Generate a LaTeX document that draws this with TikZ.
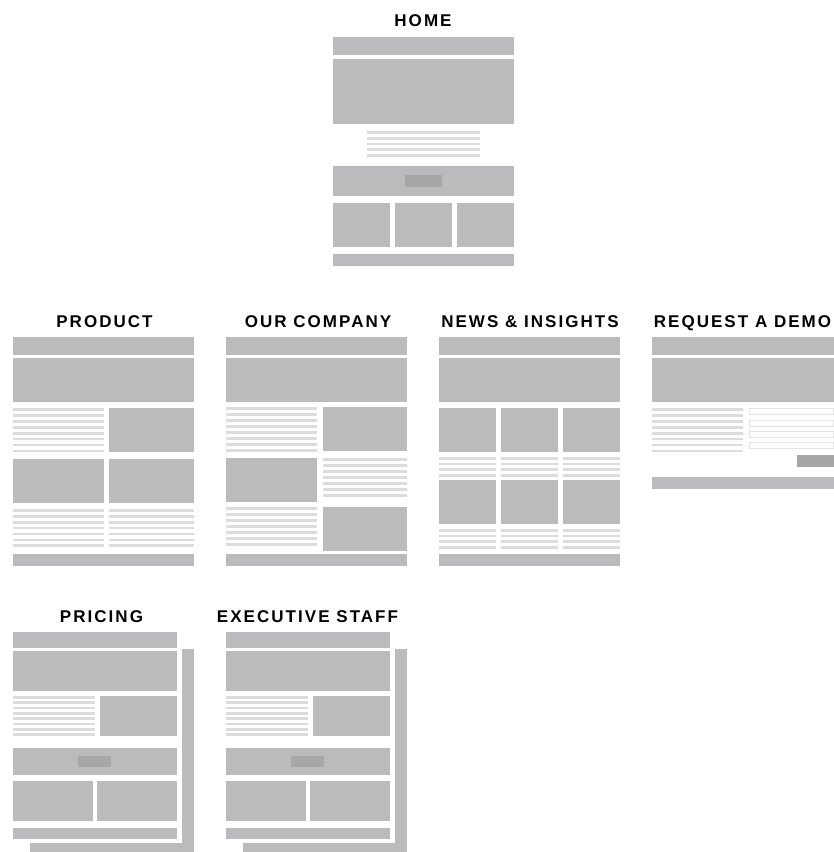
\documentclass[tikz,border=0pt]{standalone}
\usepackage{fontspec}
\usepackage{tikz}
\newfontfamily\headfont{Liberation Sans}[LetterSpace=12]
\definecolor{blockgray}{HTML}{BBBBBE}
\definecolor{linegray}{HTML}{DCDCDE}
\definecolor{btngray}{HTML}{A7A7AA}
\definecolor{fieldgray}{HTML}{E4E4E6}
\tikzset{
  block/.style={fill=blockgray},
  txtline/.style={fill=linegray},
  button/.style={fill=btngray},
  field/.style={draw=fieldgray, fill=white, line width=0.8pt},
  pagetitle/.style={font=\headfont\bfseries\fontsize{17}{17}\selectfont, anchor=base, inner sep=0pt, text=black}
}

\begin{document}
\begin{tikzpicture}[x=1pt,y=-1pt]
\useasboundingbox[fill=white] (0,0) rectangle (834,852);

% home
\node[pagetitle] (home) at (423,26) {HOME};
\fill[block] (333,37) rectangle (514,55);
\fill[block] (333,59) rectangle (514,124);
\foreach \i in {0,...,4} \fill[txtline] (367,131+5.8*\i) rectangle (480,133.7+5.8*\i);
\fill[block] (333,166) rectangle (514,196);
\fill[button] (405,175) rectangle (442,187);
\fill[block] (333,203) rectangle (390,247);
\fill[block] (395,203) rectangle (452,247);
\fill[block] (457,203) rectangle (514,247);
\fill[block] (333,254) rectangle (514,266);

% product
\node[pagetitle] (product) at (104.5,327) {PRODUCT};
\fill[block] (13,337) rectangle (194,355);
\fill[block] (13,358) rectangle (194,402);
\foreach \i in {0,...,7} \fill[txtline] (13,408+5.95*\i) rectangle (104,410.7+5.95*\i);
\fill[block] (109,408) rectangle (194,452);
\fill[block] (13,459) rectangle (104,503);
\fill[block] (109,459) rectangle (194,503);
\foreach \i in {0,...,6} {
  \fill[txtline] (13,509+5.9*\i) rectangle (104,511.7+5.9*\i);
  \fill[txtline] (109,509+5.9*\i) rectangle (194,511.7+5.9*\i);
}
\fill[block] (13,554) rectangle (194,566);

% our company
\node[pagetitle] (company) at (318,327) {OUR COMPANY};
\fill[block] (226,337) rectangle (407,355);
\fill[block] (226,358) rectangle (407,402);
\foreach \i in {0,...,7} \fill[txtline] (226,407+6*\i) rectangle (317,409.7+6*\i);
\fill[block] (323,407) rectangle (407,451);
\fill[block] (226,458) rectangle (317,502);
\foreach \i in {0,...,6} \fill[txtline] (323,458+6*\i) rectangle (407,460.7+6*\i);
\foreach \i in {0,...,6} \fill[txtline] (226,507+6*\i) rectangle (317,509.7+6*\i);
\fill[block] (323,507) rectangle (407,551);
\fill[block] (226,554) rectangle (407,566);

% news and insights
\node[pagetitle] (news) at (530,327) {NEWS \& INSIGHTS};
\fill[block] (439,337) rectangle (620,355);
\fill[block] (439,358) rectangle (620,402);
\foreach \x in {439,501,563} {
  \fill[block] (\x,408) rectangle (\x+57,452);
  \fill[block] (\x,480) rectangle (\x+57,524);
  \foreach \i in {0,...,3} {
    \fill[txtline] (\x,457+5.7*\i) rectangle (\x+57,459.7+5.7*\i);
    \fill[txtline] (\x,529+5.7*\i) rectangle (\x+57,531.7+5.7*\i);
  }
}
\fill[block] (439,554) rectangle (620,566);

% request a demo
\node[pagetitle] (demo) at (742.5,327) {REQUEST A DEMO};
\fill[block] (652,337) rectangle (834,355);
\fill[block] (652,358) rectangle (834,402);
\foreach \i in {0,...,7} \fill[txtline] (652,408+5.95*\i) rectangle (743,410.7+5.95*\i);
\foreach \i in {0,...,3} \draw[field] (749.5,408.5+11.4*\i) rectangle (833,414.5+11.4*\i);
\fill[button] (797,455) rectangle (834,467);
\fill[block] (652,477) rectangle (834,489);

% pricing + executive staff (stacked pages)
\node[pagetitle] (pricing) at (101.5,622) {PRICING};
\node[pagetitle] (staff) at (307.5,622) {EXECUTIVE STAFF};
\foreach \dx in {0,213} {
\begin{scope}[xshift=\dx]
  \fill[block] (30,649) rectangle (194,852);
  \fill[white] (13,632) rectangle (181.5,842.5);
  \fill[block] (13,632) rectangle (177,648);
  \fill[block] (13,651) rectangle (177,691);
  \foreach \i in {0,...,7} \fill[txtline] (13,696+5.33*\i) rectangle (95,698.7+5.33*\i);
  \fill[block] (100,696) rectangle (177,736);
  \fill[block] (13,748) rectangle (177,775);
  \fill[button] (78,756) rectangle (111,767);
  \fill[block] (13,781) rectangle (93,821);
  \fill[block] (97,781) rectangle (177,821);
  \fill[block] (13,828) rectangle (177,839);
\end{scope}
}
\end{tikzpicture}
\end{document}
